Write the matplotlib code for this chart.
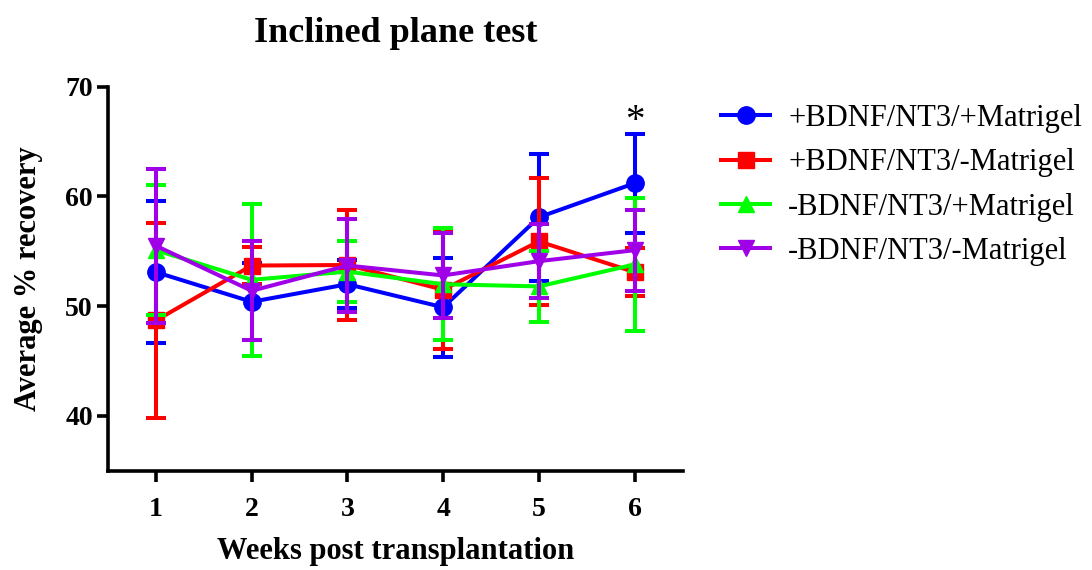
import matplotlib
matplotlib.use("Agg")
import matplotlib.pyplot as plt

# Data
weeks = [1, 2, 3, 4, 5, 6]
labels = ["+BDNF/NT3/+Matrigel", "+BDNF/NT3/-Matrigel",
          "-BDNF/NT3/+Matrigel", "-BDNF/NT3/-Matrigel"]

bdnf_mat_mean = [53.1, 50.4, 52.0, 49.9, 58.1, 61.2]
bdnf_mat_err = [6.5, 3.5, 2.2, 4.5, 5.8, 4.5]

bdnf_nomat_mean = [48.7, 53.7, 53.75, 51.5, 55.9, 53.1]
bdnf_nomat_err = [8.9, 1.7, 5.05, 5.4, 5.8, 2.2]

nobdnf_mat_mean = [55.1, 52.4, 53.15, 52.0, 51.8, 53.8]
nobdnf_mat_err = [5.9, 6.9, 2.75, 5.1, 3.2, 6.1]

nobdnf_nomat_mean = [55.5, 51.4, 53.7, 52.8, 54.1, 55.1]
nobdnf_nomat_err = [7.0, 4.5, 4.2, 3.9, 3.4, 3.7]

colors = ["#0000FF", "#FF0000", "#00FF00", "#A000E8"]
markers = ["o", "s", "^", "v"]
msizes = [12.5, 11, 12, 12]

plt.rcParams["font.family"] = ["Liberation Serif", "DejaVu Serif"]

fig = plt.figure(figsize=(10.92, 5.70), dpi=100)
ax = fig.add_axes([0.099, 0.174, 0.526, 0.674])

series = [(bdnf_mat_mean, bdnf_mat_err), (bdnf_nomat_mean, bdnf_nomat_err),
          (nobdnf_mat_mean, nobdnf_mat_err), (nobdnf_nomat_mean, nobdnf_nomat_err)]

handles = []
for (mean, err), c, m, ms, lab in zip(series, colors, markers, msizes, labels):
    ax.errorbar(weeks, mean, yerr=err, fmt="none", ecolor=c,
                elinewidth=2.9, capsize=7.5, capthick=2.9)
    h, = ax.plot(weeks, mean, color=c, marker=m, markersize=ms,
                 linewidth=2.9, label=lab)
    handles.append(h)

# significance marker
ax.text(6, 66.8, "*", ha="center", va="center", fontsize=28)

ax.set_xlim(0.5, 6.5)
ax.set_ylim(35, 70)
ax.set_xticks(weeks)
ax.set_yticks([40, 50, 60, 70])

for s in ["top", "right"]:
    ax.spines[s].set_visible(False)
for s in ["left", "bottom"]:
    ax.spines[s].set_linewidth(2.6)

ax.tick_params(direction="out", length=8, width=2.6, labelsize=20)
ax.tick_params(axis="x", pad=11)
ax.tick_params(axis="y", pad=3)
for t in ax.get_xticklabels() + ax.get_yticklabels():
    t.set_fontweight("bold")

ax.set_title("Inclined plane test", fontsize=26, fontweight="bold", pad=32)
ax.set_xlabel("Weeks post transplantation", fontsize=22, fontweight="bold", labelpad=11)
ax.set_ylabel("Average % recovery", fontsize=22, fontweight="bold", labelpad=16)

ax.legend(handles=handles, loc="upper left", bbox_to_anchor=(1.03, 1.01),
          frameon=False, fontsize=22, handlelength=1.6, labelspacing=0.5,
          handletextpad=0.6, borderaxespad=0.3)

fig.savefig("out.png", dpi=100)
